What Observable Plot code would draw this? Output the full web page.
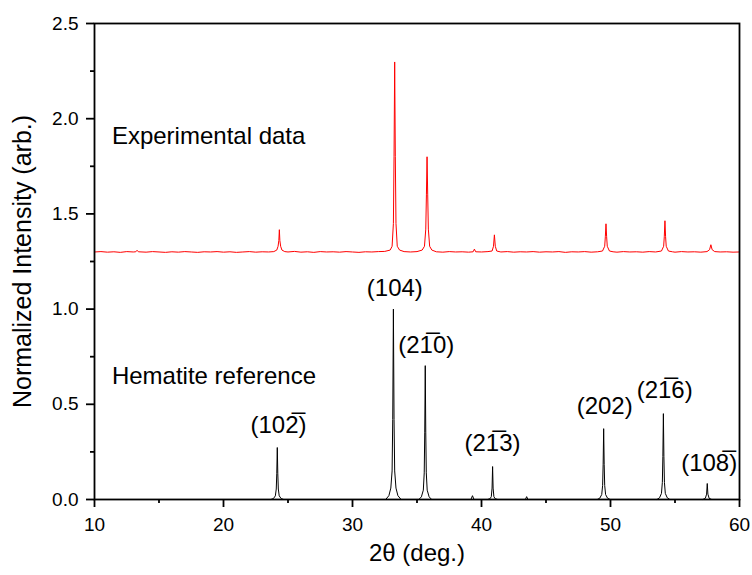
<!DOCTYPE html>
<html><head><meta charset="utf-8">
<script src="https://cdn.jsdelivr.net/npm/d3@7"></script>
<script src="https://cdn.jsdelivr.net/npm/@observablehq/plot@0.6"></script>
<style>body{margin:0;background:#fff}</style>
</head><body><div id="chart"></div>
<script>
// Hematite reference pattern [2θ, intensity]
const refPoints = [
  [10,0],
  [23.67,0],[23.87,0.005],[24.02,0.019],[24.09,0.055],[24.13,0.135],[24.17,0.273],[24.21,0.135],[24.25,0.055],[24.32,0.019],[24.47,0.005],[24.67,0],
  [32.57,0],[32.82,0.02],[32.97,0.06],[33.07,0.15],[33.12,0.42],[33.17,1.0],[33.22,0.42],[33.27,0.15],[33.37,0.06],[33.52,0.02],[33.77,0],
  [35.14,0],[35.34,0.014],[35.49,0.049],[35.56,0.14],[35.6,0.35],[35.64,0.703],[35.68,0.35],[35.72,0.14],[35.79,0.049],[35.94,0.014],[36.14,0],
  [39.18,0],[39.3,0.02],[39.42,0],
  [40.46,0],[40.66,0.004],[40.76,0.015],[40.82,0.06],[40.86,0.173],[40.9,0.06],[40.96,0.015],[41.06,0.004],[41.26,0],
  [43.4,0],[43.5,0.015],[43.6,0],
  [48.97,0],[49.17,0.007],[49.32,0.026],[49.39,0.074],[49.43,0.185],[49.47,0.372],[49.51,0.185],[49.55,0.074],[49.62,0.026],[49.77,0.007],[49.97,0],
  [53.6,0],[53.8,0.009],[53.95,0.032],[54.02,0.09],[54.06,0.225],[54.1,0.451],[54.14,0.225],[54.18,0.09],[54.25,0.032],[54.4,0.009],[54.6,0],
  [57.15,0],[57.35,0.006],[57.45,0.028],[57.5,0.084],[57.55,0.028],[57.65,0.006],[57.85,0],
  [60,0]
];
// Experimental pattern [2θ, intensity] (offset by 1.3)
const expPoints = [
  [10,1.300],[10.5,1.302],[11,1.299],[11.5,1.301],[12,1.298],[12.5,1.302],[13,1.300],[13.2,1.301],[13.3,1.309],[13.4,1.301],
  [14,1.299],[14.5,1.302],[15,1.300],[15.5,1.298],[16,1.301],[16.5,1.299],[17,1.302],[17.5,1.300],[18,1.298],[18.5,1.301],
  [19,1.300],[19.5,1.302],[20,1.299],[20.5,1.301],[21,1.298],[21.5,1.300],[22,1.302],[22.5,1.299],[23,1.301],[23.5,1.300],
  [23.9,1.302],[24.13,1.31],[24.23,1.33],[24.29,1.36],[24.33,1.417],[24.37,1.36],[24.43,1.33],[24.53,1.31],[24.75,1.302],
  [25,1.300],[25.5,1.303],[26,1.299],[26.5,1.301],[27,1.298],[27.5,1.302],[28,1.300],[28.5,1.301],[29,1.299],[29.5,1.302],
  [30,1.300],[30.5,1.298],[31,1.301],[31.5,1.300],[32,1.302],[32.5,1.303],
  [32.92,1.31],[33.07,1.33],[33.17,1.45],[33.22,1.8],[33.27,2.298],[33.32,1.8],[33.37,1.45],[33.47,1.33],[33.65,1.31],
  [34,1.302],[34.5,1.300],[35,1.302],
  [35.4,1.31],[35.58,1.33],[35.68,1.42],[35.73,1.6],[35.78,1.80],[35.83,1.6],[35.88,1.42],[35.98,1.33],[36.15,1.31],
  [36.5,1.301],[37,1.299],[37.5,1.302],[38,1.300],[38.5,1.301],[39,1.299],
  [39.35,1.301],[39.45,1.315],[39.55,1.301],
  [40,1.300],[40.5,1.302],[40.82,1.305],[40.93,1.33],[41.0,1.39],[41.07,1.33],[41.18,1.305],
  [41.5,1.300],[42,1.302],[42.5,1.299],[43,1.301],[43.5,1.300],[44,1.302],[44.5,1.299],[45,1.301],[45.5,1.300],[46,1.302],
  [46.5,1.298],[47,1.301],[47.5,1.300],[48,1.302],[48.5,1.299],[49,1.301],
  [49.38,1.305],[49.55,1.33],[49.6,1.38],[49.65,1.448],[49.7,1.38],[49.75,1.33],[49.92,1.305],
  [50.2,1.301],[50.5,1.299],[51,1.302],[51.5,1.300],[52,1.301],[52.5,1.299],[53,1.302],[53.5,1.300],
  [53.95,1.305],[54.12,1.33],[54.17,1.38],[54.22,1.464],[54.27,1.38],[54.32,1.33],[54.49,1.305],
  [54.8,1.301],[55,1.299],[55.5,1.302],[56,1.300],[56.5,1.301],[57,1.299],
  [57.48,1.302],[57.68,1.312],[57.78,1.338],[57.88,1.312],[58.08,1.302],
  [58.5,1.300],[59,1.301],[59.5,1.299],[60,1.300]
];
const peakLabels = ["(102\u0305)", "(104)", "(21\u03050)", "(21\u03053)", "(202)", "(21\u03056)", "(108\u0305)"];
const labelX = [24.26, 33.28, 35.72, 40.85, 49.55, 54.2, 57.65];
const labelY = [0.388, 1.107, 0.808, 0.294, 0.488, 0.572, 0.189];
const seriesNames = ["Experimental data", "Hematite reference"];
const seriesNameX = [11.35, 11.35];
const seriesNameY = [1.908, 0.649];
const xTicks = [10, 20, 30, 40, 50, 60];
const xMinor = [15, 25, 35, 45, 55];
const yTicks = [0, 0.5, 1.0, 1.5, 2.0, 2.5];
const yMinor = [0.25, 0.75, 1.25, 1.75, 2.25];
const xTitle = "2\u03b8 (deg.)";
const yTitle = "Normalized Intensity (arb.)";

const chart = Plot.plot({
  width: 752, height: 575,
  marginLeft: 94, marginRight: 13, marginTop: 23, marginBottom: 76,
  x: {domain: [10, 60]},
  y: {domain: [0, 2.5]},
  style: {fontFamily: "'Liberation Sans', Arial, sans-serif", fontSize: "19px", color: "#000", background: "#fff"},
  marks: [
    Plot.line(refPoints, {x: d => d[0], y: d => d[1], stroke: "#000", strokeWidth: 1}),
    Plot.line(expPoints, {x: d => d[0], y: d => d[1], stroke: "#ff0000", strokeWidth: 1}),
    Plot.frame({stroke: "#000", strokeWidth: 1.8}),
    Plot.axisX(xTicks, {tickSize: 8, tickPadding: 10, strokeWidth: 1.8, tickFormat: d => String(d), label: null, fontSize: 19}),
    Plot.axisX(xMinor, {tickSize: 4, strokeWidth: 1.8, tickFormat: () => "", label: null}),
    Plot.axisY(yTicks, {tickSize: 8, tickPadding: 8, strokeWidth: 1.8, tickFormat: d3.format(".1f"), label: null, fontSize: 19}),
    Plot.axisY(yMinor, {tickSize: 4, strokeWidth: 1.8, tickFormat: () => "", label: null}),
    Plot.text(seriesNames, {x: (d, i) => seriesNameX[i], y: (d, i) => seriesNameY[i], textAnchor: "start", fontSize: 24}),
    Plot.text(peakLabels, {x: (d, i) => labelX[i], y: (d, i) => labelY[i], fontSize: 24}),
    Plot.text([yTitle], {frameAnchor: "left", dx: -72, rotate: -90, textAnchor: "middle", fontSize: 25}),
    Plot.text([xTitle], {frameAnchor: "bottom", dy: 61, textAnchor: "middle", fontSize: 24})
  ]
});
document.getElementById("chart").appendChild(chart);
</script>
</body></html>
